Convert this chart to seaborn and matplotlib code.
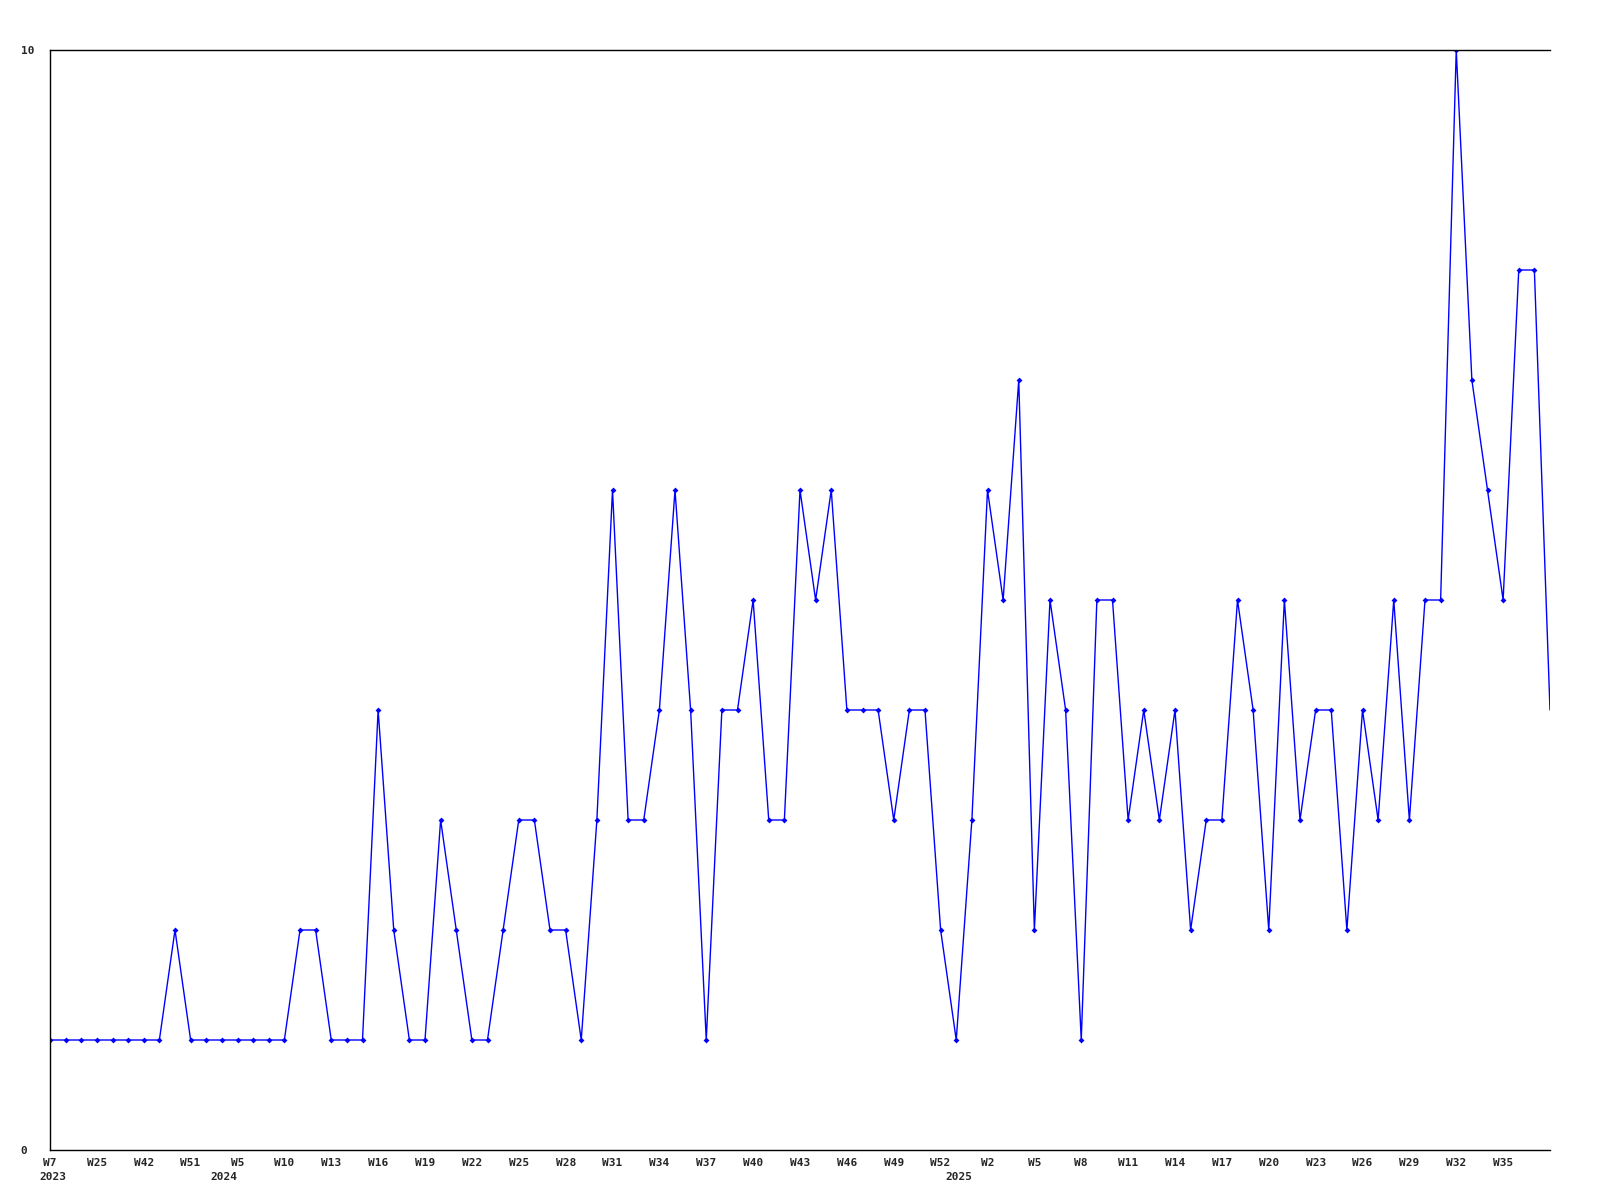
import matplotlib
matplotlib.use("Agg")
import matplotlib.pyplot as plt
import seaborn as sns
import pandas as pd
import numpy as np

# valores semanais
valores = [1, 1, 1, 1, 1, 1, 1, 1, 2, 1, 1, 1, 1, 1, 1, 1, 2, 2, 1, 1,
           1, 4, 2, 1, 1, 3, 2, 1, 1, 2, 3, 3, 2, 2, 1, 3, 6, 3, 3, 4,
           6, 4, 1, 4, 4, 5, 3, 3, 6, 5, 6, 4, 4, 4, 3, 4, 4, 2, 1, 3,
           6, 5, 7, 2, 5, 4, 1, 5, 5, 3, 4, 3, 4, 2, 3, 3, 5, 4, 2, 5,
           3, 4, 4, 2, 4, 3, 5, 3, 5, 5, 10, 7, 6, 5, 8, 8, 4]

# rótulos do eixo x, um a cada 3 pontos
rotulos_semana = ["W7", "W25", "W42", "W51", "W5", "W10", "W13", "W16", "W19",
                  "W22", "W25", "W28", "W31", "W34", "W37", "W40", "W43", "W46",
                  "W49", "W52", "W2", "W5", "W8", "W11", "W14", "W17", "W20",
                  "W23", "W26", "W29", "W32", "W35"]
anos = ["2023", "2024", "2025"]
pos_anos = [0.2, 11.1, 58.2]

df = pd.DataFrame({"idx": np.arange(len(valores)), "valor": valores})

sns.set_style("white")
plt.rcParams['font.family'] = ['DejaVu Sans Mono', 'DejaVu Sans']

fig = plt.figure(figsize=(16, 12), dpi=100)
ax = fig.add_axes([50 / 1600, 1 - 1150 / 1200, 1500 / 1600, 1100 / 1200])

sns.lineplot(data=df, x="idx", y="valor", ax=ax, color="#0000ff", linewidth=1.0,
             marker="D", markersize=3, markeredgewidth=0,
             markevery=list(range(len(valores) - 1)))

ax.set_xlim(0, len(valores) - 1)
ax.set_ylim(0, 10)

ax.set_xticks(np.arange(0, 3 * len(rotulos_semana), 3))
ax.set_xticklabels(rotulos_semana, fontsize=8, fontweight="bold")
ax.set_yticks([0, 10])
ax.set_yticklabels(["0", "10"], fontsize=8, fontweight="bold", ha="left")
ax.tick_params(axis="x", length=0, pad=6)
ax.tick_params(axis="y", length=0, pad=21)

for ano, p in zip(anos, pos_anos):
    ax.text(p, -0.02, ano, transform=ax.get_xaxis_transform(), fontsize=8,
            fontweight="bold", ha="center", va="top")

ax.set_xlabel("")
ax.set_ylabel("")
for lado in ["left", "bottom", "top"]:
    ax.spines[lado].set_color("black")
    ax.spines[lado].set_linewidth(1.0)
ax.spines["right"].set_visible(False)

fig.savefig("out.png", dpi=100)
